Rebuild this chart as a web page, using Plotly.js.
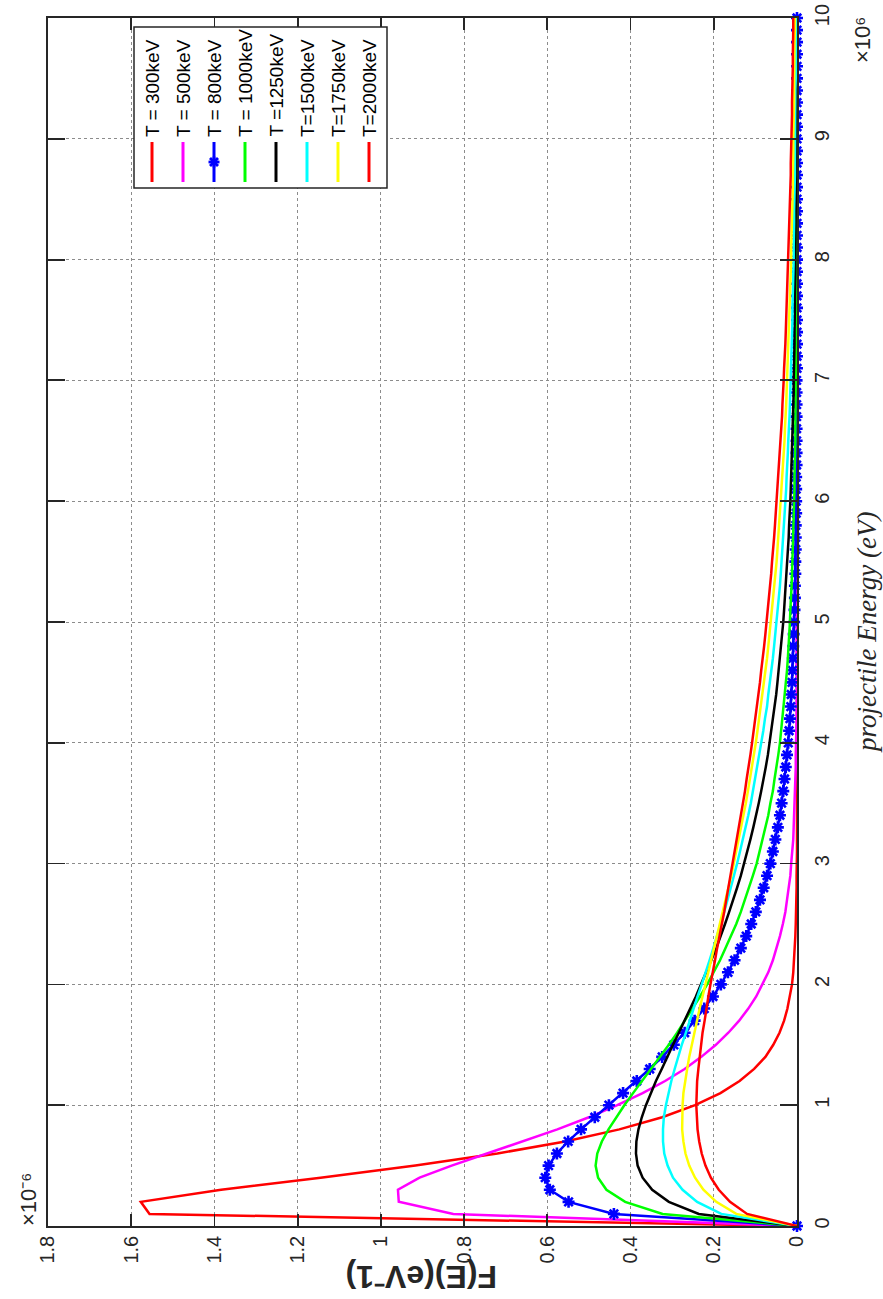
<!DOCTYPE html>
<html>
<head>
<meta charset="utf-8">
<script src="https://cdn.plot.ly/plotly-3.0.1.min.js"></script>
<style>html,body{margin:0;padding:0;background:#fff;}#chart{width:883px;height:1299px;}</style>
</head>
<body>
<div id="chart"></div>
<script>
// projectile energy, units of 10^6 eV
const energy = [
  0,0.1,0.2,0.3,0.4,0.5,0.6,0.7,0.8,0.9,
  1,1.1,1.2,1.3,1.4,1.5,1.6,1.7,1.8,1.9,
  2,2.1,2.2,2.3,2.4,2.5,2.6,2.7,2.8,2.9,
  3,3.1,3.2,3.3,3.4,3.5,3.6,3.7,3.8,3.9,
  4,4.1,4.2,4.3,4.4,4.5,4.6,4.7,4.8,4.9,
  5,5.1,5.2,5.3,5.4,5.5,5.6,5.7,5.8,5.9,
  6,6.1,6.2,6.3,6.4,6.5,6.6,6.7,6.8,6.9,
  7,7.1,7.2,7.3,7.4,7.5,7.6,7.7,7.8,7.9,
  8,8.1,8.2,8.3,8.4,8.5,8.6,8.7,8.8,8.9,
  9,9.1,9.2,9.3,9.4,9.5,9.6,9.7,9.8,9.9,
  10
];
// F(E), units of 10^-6 eV^-1
const f300 = [
  0,1.556,1.577,1.384,1.145,0.917,0.720,0.557,0.427,0.324,
  0.245,0.184,0.138,0.103,0.076,0.057,0.042,0.031,0.023,0.017,
  0.012,0.009,0.007,0.005,0.004,0.003,0.002,0.001,0.001,0.001,
  0,0,0,0,0,0,0,0,0,0,
  0,0,0,0,0,0,0,0,0,0,
  0,0,0,0,0,0,0,0,0,0,
  0,0,0,0,0,0,0,0,0,0,
  0,0,0,0,0,0,0,0,0,0,
  0,0,0,0,0,0,0,0,0,0,
  0,0,0,0,0,0,0,0,0,0,
  0
];
const f500 = [
  0,0.826,0.957,0.959,0.907,0.830,0.745,0.658,0.576,0.500,
  0.432,0.371,0.317,0.270,0.230,0.195,0.165,0.139,0.117,0.098,
  0.083,0.069,0.058,0.049,0.041,0.034,0.028,0.024,0.020,0.016,
  0.014,0.011,0.009,0.008,0.007,0.005,0.005,0.004,0.003,0.003,
  0.002,0.002,0.001,0.001,0.001,0.001,0.001,0.001,0.001,0,
  0,0,0,0,0,0,0,0,0,0,
  0,0,0,0,0,0,0,0,0,0,
  0,0,0,0,0,0,0,0,0,0,
  0,0,0,0,0,0,0,0,0,0,
  0,0,0,0,0,0,0,0,0,0,
  0
];
const f800 = [
  0,0.440,0.549,0.594,0.605,0.597,0.577,0.550,0.519,0.486,
  0.452,0.418,0.385,0.354,0.324,0.296,0.270,0.246,0.223,0.202,
  0.183,0.166,0.150,0.135,0.122,0.110,0.099,0.089,0.080,0.072,
  0.064,0.058,0.052,0.046,0.041,0.037,0.033,0.030,0.027,0.024,
  0.021,0.019,0.017,0.015,0.014,0.012,0.011,0.010,0.009,0.008,
  0.007,0.006,0.005,0.005,0.004,0.004,0.003,0.003,0.003,0.002,
  0.002,0.002,0.002,0.001,0.001,0.001,0.001,0.001,0.001,0.001,
  0.001,0,0,0,0,0,0,0,0,0,
  0,0,0,0,0,0,0,0,0,0,
  0,0,0,0,0,0,0,0,0,0,
  0
];
const f1000 = [
  0,0.323,0.413,0.458,0.478,0.484,0.480,0.469,0.453,0.435,
  0.415,0.394,0.372,0.351,0.329,0.308,0.288,0.269,0.250,0.233,
  0.216,0.200,0.185,0.172,0.159,0.146,0.135,0.125,0.115,0.106,
  0.097,0.090,0.082,0.076,0.069,0.064,0.058,0.054,0.049,0.045,
  0.041,0.038,0.035,0.032,0.029,0.027,0.024,0.022,0.020,0.019,
  0.017,0.016,0.014,0.013,0.012,0.011,0.010,0.009,0.008,0.008,
  0.007,0.006,0.006,0.005,0.005,0.004,0.004,0.004,0.003,0.003,
  0.003,0.002,0.002,0.002,0.002,0.002,0.002,0.001,0.001,0.001,
  0.001,0.001,0.001,0.001,0.001,0.001,0,0,0,0,
  0,0,0,0,0,0,0,0,0,0,
  0
];
const f1250 = [
  0,0.236,0.308,0.348,0.371,0.383,0.387,0.386,0.381,0.373,
  0.363,0.351,0.339,0.325,0.312,0.298,0.284,0.270,0.257,0.243,
  0.231,0.218,0.206,0.194,0.183,0.173,0.163,0.153,0.144,0.135,
  0.127,0.119,0.112,0.105,0.098,0.092,0.086,0.080,0.075,0.070,
  0.066,0.062,0.057,0.054,0.050,0.047,0.044,0.041,0.038,0.035,
  0.033,0.031,0.029,0.027,0.025,0.023,0.022,0.020,0.019,0.017,
  0.016,0.015,0.014,0.013,0.012,0.011,0.011,0.010,0.009,0.008,
  0.008,0.007,0.007,0.006,0.006,0.005,0.005,0.005,0.004,0.004,
  0.004,0.004,0.003,0.003,0.003,0.003,0.002,0.002,0.002,0.002,
  0.002,0.002,0.002,0.001,0.001,0.001,0.001,0.001,0.001,0.001,
  0.001
];
const f1500 = [
  0,0.182,0.240,0.275,0.298,0.311,0.319,0.322,0.322,0.320,
  0.315,0.309,0.302,0.294,0.286,0.277,0.267,0.258,0.248,0.239,
  0.229,0.219,0.210,0.201,0.192,0.183,0.175,0.167,0.159,0.151,
  0.144,0.137,0.130,0.124,0.117,0.111,0.106,0.100,0.095,0.090,
  0.085,0.081,0.077,0.072,0.069,0.065,0.061,0.058,0.055,0.052,
  0.049,0.046,0.044,0.041,0.039,0.037,0.035,0.033,0.031,0.029,
  0.028,0.026,0.025,0.023,0.022,0.021,0.019,0.018,0.017,0.016,
  0.015,0.014,0.014,0.013,0.012,0.011,0.011,0.010,0.009,0.009,
  0.008,0.008,0.007,0.007,0.007,0.006,0.006,0.005,0.005,0.005,
  0.005,0.004,0.004,0.004,0.004,0.003,0.003,0.003,0.003,0.003,
  0.002
];
const f1750 = [
  0,0.146,0.194,0.225,0.245,0.259,0.268,0.273,0.276,0.276,
  0.275,0.273,0.269,0.264,0.259,0.253,0.247,0.241,0.234,0.227,
  0.220,0.213,0.206,0.199,0.192,0.185,0.178,0.171,0.165,0.158,
  0.152,0.146,0.140,0.134,0.129,0.123,0.118,0.113,0.108,0.104,
  0.099,0.095,0.091,0.087,0.083,0.079,0.075,0.072,0.069,0.066,
  0.063,0.060,0.057,0.054,0.052,0.049,0.047,0.045,0.043,0.041,
  0.039,0.037,0.035,0.033,0.032,0.030,0.029,0.027,0.026,0.025,
  0.024,0.022,0.021,0.020,0.019,0.018,0.017,0.017,0.016,0.015,
  0.014,0.014,0.013,0.012,0.012,0.011,0.010,0.010,0.009,0.009,
  0.009,0.008,0.008,0.007,0.007,0.007,0.006,0.006,0.006,0.005,
  0.005
];
const f2000 = [
  0,0.120,0.161,0.188,0.207,0.220,0.229,0.235,0.239,0.241,
  0.242,0.241,0.240,0.237,0.234,0.231,0.227,0.222,0.218,0.213,
  0.208,0.202,0.197,0.192,0.186,0.181,0.175,0.170,0.165,0.159,
  0.154,0.149,0.144,0.139,0.134,0.130,0.125,0.121,0.116,0.112,
  0.108,0.104,0.100,0.096,0.093,0.089,0.086,0.082,0.079,0.076,
  0.073,0.070,0.068,0.065,0.062,0.060,0.057,0.055,0.053,0.051,
  0.049,0.047,0.045,0.043,0.041,0.039,0.038,0.036,0.035,0.033,
  0.032,0.031,0.029,0.028,0.027,0.026,0.025,0.024,0.023,0.022,
  0.021,0.020,0.019,0.018,0.017,0.017,0.016,0.015,0.015,0.014,
  0.013,0.013,0.012,0.012,0.011,0.011,0.010,0.010,0.009,0.009,
  0.009
];
const seriesNames = ["T = 300keV","T = 500keV","T = 800keV","T = 1000keV","T =1250keV","T=1500keV","T=1750keV","T=2000keV"];
const seriesData = [f300, f500, f800, f1000, f1250, f1500, f1750, f2000];
const seriesColors = ["#ff0000","#ff00ff","#0000ff","#00ff00","#000000","#00ffff","#ffff00","#ff0000"];
const markerSeries = 2; // T = 800keV drawn with '*' markers

// ---- geometry (pixels) ----
const W = 883, H = 1299;
const L = 48, R = 797, T = 18, B = 1226;
const px = x => (x - L) / (R - L);
const py = y => (B - y) / (B - T);
const axisCol = "#262626";
const sans = "Liberation Sans, Arial, sans-serif";

const traces = seriesData.map((f, i) => {
  const tr = {
    x: f, y: energy, type: "scatter", name: seriesNames[i],
    mode: i === markerSeries ? "lines+markers" : "lines",
    line: {color: seriesColors[i], width: 2.5},
    showlegend: false, hoverinfo: "skip"
  };
  if (i === markerSeries) {
    tr.marker = {symbol: "asterisk-open", size: 10, color: seriesColors[i], line: {color: seriesColors[i], width: 2.6}};
    tr.cliponaxis = false;
  }
  return tr;
});

// ---- hand-built rotated legend ----
const shapes = [];
const annotations = [];
const legBox = {x0: 134, y0: 27, x1: 387, y1: 188};
shapes.push({type: "rect", xref: "paper", yref: "paper", layer: "above",
  x0: px(legBox.x0), x1: px(legBox.x1), y0: py(legBox.y1), y1: py(legBox.y0),
  line: {color: axisCol, width: 1.5}, fillcolor: "#ffffff"});
const col0 = 152, colStep = 31;
seriesNames.forEach((name, i) => {
  const cx = col0 + i * colStep;
  shapes.push({type: "line", xref: "paper", yref: "paper", layer: "above",
    x0: px(cx), x1: px(cx), y0: py(182), y1: py(142),
    line: {color: seriesColors[i], width: 3}});
  if (i === markerSeries) {
    const my = 162, r = 5.5, d = 4;
    [[0, -r, 0, r], [-r, 0, r, 0], [-d, -d, d, d], [-d, d, d, -d]].forEach(s => {
      shapes.push({type: "line", xref: "paper", yref: "paper", layer: "above",
        x0: px(cx + s[0]), x1: px(cx + s[2]), y0: py(my + s[1]), y1: py(my + s[3]),
        line: {color: seriesColors[i], width: 2.8}});
    });
  }
  annotations.push({xref: "paper", yref: "paper", x: px(cx), y: py(139),
    xanchor: "center", yanchor: "bottom", showarrow: false, textangle: -90,
    text: name, font: {family: sans, size: 19, color: "#000000"}});
});

// axis exponent labels and titles (unicode superscripts)
annotations.push({xref: "paper", yref: "paper", x: px(28), y: py(1200), xanchor: "center", yanchor: "middle",
  showarrow: false, textangle: -90, text: "\u00d710\u207b\u2076",
  font: {family: sans, size: 22, color: axisCol}});
annotations.push({xref: "paper", yref: "paper", x: px(862), y: py(40), xanchor: "center", yanchor: "middle",
  showarrow: false, textangle: -90, text: "\u00d710\u2076",
  font: {family: sans, size: 22, color: axisCol}});
annotations.push({xref: "paper", yref: "paper", x: px(422), y: py(1277), xanchor: "center", yanchor: "middle",
  showarrow: false, textangle: 180, text: "F(E)(eV\u207b1)",
  font: {family: sans, size: 32, weight: "bold", color: axisCol}});
annotations.push({xref: "paper", yref: "paper", x: px(867), y: py(633), xanchor: "center", yanchor: "middle",
  showarrow: false, textangle: -90, text: "projectile Energy (eV)",
  font: {family: "Liberation Serif, Times New Roman, serif", size: 27, style: "italic", color: axisCol}});

const tickFont = {family: sans, size: 20, color: axisCol};
const layout = {
  width: W, height: H,
  margin: {l: L, r: W - R, t: T, b: H - B, pad: 0},
  paper_bgcolor: "#ffffff", plot_bgcolor: "#ffffff",
  showlegend: false,
  xaxis: {
    range: [1.8, 0], tick0: 0, dtick: 0.2, tickangle: -90,
    ticks: "inside", ticklen: 12, tickwidth: 1.8, tickcolor: axisCol,
    showline: true, linecolor: axisCol, linewidth: 1.8, mirror: "ticks",
    showgrid: true, gridcolor: "#8c8c8c", gridwidth: 1, griddash: "dot",
    zeroline: false, tickfont: tickFont, automargin: false, fixedrange: true
  },
  yaxis: {
    range: [0, 10], tick0: 0, dtick: 1, side: "right", tickangle: -90,
    ticks: "inside", ticklen: 17, tickwidth: 1.8, tickcolor: axisCol,
    showline: true, linecolor: axisCol, linewidth: 1.8, mirror: "ticks",
    showgrid: true, gridcolor: "#8c8c8c", gridwidth: 1, griddash: "dot",
    zeroline: false, tickfont: tickFont, ticklabelstandoff: 6, automargin: false, fixedrange: true
  },
  shapes: shapes,
  annotations: annotations
};

Plotly.newPlot("chart", traces, layout, {staticPlot: true, displayModeBar: false});
</script>
</body>
</html>
